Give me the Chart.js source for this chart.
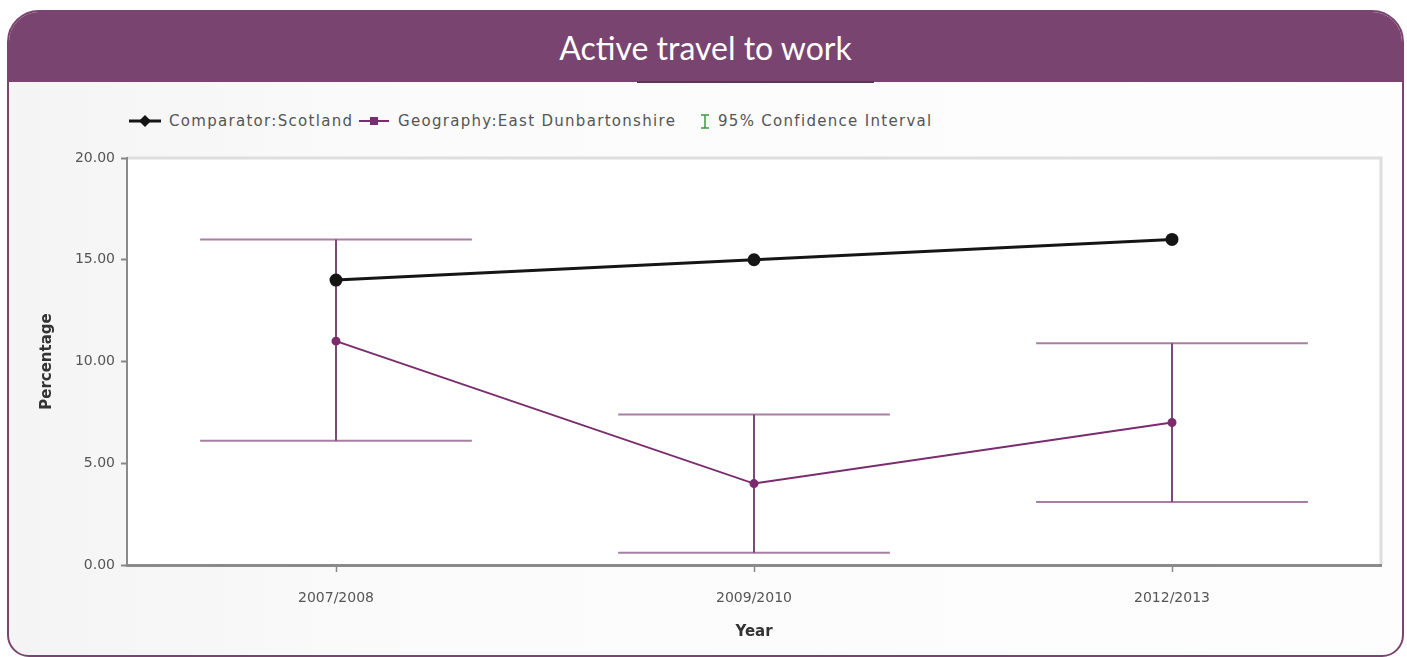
<!DOCTYPE html>
<html>
<head>
<meta charset="utf-8">
<script src="https://cdn.jsdelivr.net/npm/chart.js@4/dist/chart.umd.min.js"></script>
<style>
  html, body { margin: 0; padding: 0; background: #fff; width: 1407px; height: 657px; overflow: hidden; }
  #panel {
    position: absolute; left: 7px; top: 10px; width: 1393px; height: 643px;
    border: 2px solid #7a4470; border-radius: 32px 32px 22px 22px;
    background: linear-gradient(to right, #f4f4f4 0%, #fbfbfb 30%, #fdfdfd 100%);
    overflow: hidden;
  }
  #header {
    position: absolute; left: 0; top: 0; width: 100%; height: 70px;
    background: #7a4470; color: #fff; text-align: center;
    font-family: Lato, "Open Sans", sans-serif; font-size: 32px; line-height: 72px;
  }
  #accent { position: absolute; left: 628px; top: 69px; width: 237px; height: 2px; background: #5e3556; }
  #legend {
    position: absolute; left: 0; top: 98px; height: 22px; width: 1000px;
    font-family: "DejaVu Sans", sans-serif; font-size: 15px; color: #555; letter-spacing: 1.3px;
  }
  #legend span.item { position: absolute; top: 0; white-space: nowrap; line-height: 22px; }
  #legend canvas { position: absolute; top: 0; }
  #wrap { position: absolute; left: 1px; top: 70px; width: 1390px; height: 570px; }
</style>
</head>
<body>
<div id="panel">
  <div id="header">Active travel to work</div>
  <div id="accent"></div>
  <div id="legend"></div>
  <div id="wrap"><canvas id="chart"></canvas></div>
</div>
<script>
// data
const years = ['2007/2008', '2009/2010', '2012/2013'];
const scotland = [14.0, 15.0, 16.0];
const eastDunbartonshire = [11.0, 4.0, 7.0];
const ciLower = [6.1, 0.6, 3.1];
const ciUpper = [16.0, 7.4, 10.9];
const yTickValues = [0, 5, 10, 15, 20];

const seriesNames = ['Comparator:Scotland', 'Geography:East Dunbartonshire', '95% Confidence Interval'];

const black = '#151515';
const purple = '#7a2c6e';
const capColor = '#a97ea3';
const stemColor = '#7c4a76';

// html legend, icons drawn on little canvases
let $legend = document.getElementById('legend');
let legendIcon = (x, w, draw) => {
    let c = document.createElement('canvas');
    c.width = w; c.height = 22;
    c.style.left = x + 'px';
    draw(c.getContext('2d'));
    $legend.appendChild(c);
}
let legendText = (x, text) => {
    let s = document.createElement('span');
    s.className = 'item';
    s.style.left = x + 'px';
    s.textContent = text;
    $legend.appendChild(s);
}
legendIcon(118, 36, (ctx) => {
    ctx.strokeStyle = black; ctx.lineWidth = 3;
    ctx.beginPath(); ctx.moveTo(2, 11); ctx.lineTo(34, 11); ctx.stroke();
    ctx.fillStyle = black;
    ctx.beginPath(); ctx.moveTo(18, 5); ctx.lineTo(24, 11); ctx.lineTo(18, 17); ctx.lineTo(12, 11); ctx.closePath(); ctx.fill();
});
legendText(160, seriesNames[0]);
legendIcon(348, 34, (ctx) => {
    ctx.strokeStyle = purple; ctx.lineWidth = 2;
    ctx.beginPath(); ctx.moveTo(2, 11); ctx.lineTo(32, 11); ctx.stroke();
    ctx.fillStyle = purple;
    ctx.fillRect(13, 7, 8, 8);
});
legendText(389, seriesNames[1]);
legendIcon(688, 16, (ctx) => {
    ctx.strokeStyle = '#3c9a3c'; ctx.lineWidth = 1.5;
    ctx.beginPath();
    ctx.moveTo(4, 5); ctx.lineTo(12, 5);
    ctx.moveTo(8, 5); ctx.lineTo(8, 18);
    ctx.moveTo(4, 18); ctx.lineTo(12, 18);
    ctx.stroke();
});
legendText(709, seriesNames[2]);

// white plot area + light frame on top / right
const plotBackground = {
    id: 'plotBackground',
    beforeDraw(chart) {
        const {ctx, chartArea: a} = chart;
        ctx.save();
        ctx.fillStyle = '#ffffff';
        ctx.fillRect(a.left, a.top, a.right - a.left, a.bottom - a.top);
        ctx.strokeStyle = '#dedede';
        ctx.lineWidth = 3;
        ctx.beginPath();
        ctx.moveTo(a.left, a.top);
        ctx.lineTo(a.right, a.top);
        ctx.lineTo(a.right, a.bottom);
        ctx.stroke();
        ctx.restore();
    }
}

// confidence interval bars for the geography series
const errorBars = {
    id: 'errorBars',
    beforeDatasetsDraw(chart) {
        const {ctx, scales: {x, y}} = chart;
        let step = x.getPixelForValue(1) - x.getPixelForValue(0);
        let half = step * 0.325;
        ctx.save();
        ciLower.forEach((lo, i) => {
            let px = x.getPixelForValue(i);
            let pLo = y.getPixelForValue(lo);
            let pHi = y.getPixelForValue(ciUpper[i]);
            ctx.strokeStyle = capColor;
            ctx.lineWidth = 2;
            ctx.beginPath();
            ctx.moveTo(px - half, pHi); ctx.lineTo(px + half, pHi);
            ctx.moveTo(px - half, pLo); ctx.lineTo(px + half, pLo);
            ctx.stroke();
            ctx.strokeStyle = stemColor;
            ctx.lineWidth = 2;
            ctx.beginPath();
            ctx.moveTo(px, pHi); ctx.lineTo(px, pLo);
            ctx.stroke();
        });
        ctx.restore();
    }
}

const data = {
    labels: years,
    datasets: [{
        label: seriesNames[0],
        data: scotland,
        borderColor: black,
        backgroundColor: black,
        borderWidth: 3,
        pointRadius: 5,
        pointStyle: 'circle',
        tension: 0,
    }, {
        label: seriesNames[1],
        data: eastDunbartonshire,
        borderColor: purple,
        backgroundColor: purple,
        borderWidth: 2,
        pointRadius: 3.5,
        pointStyle: 'circle',
        tension: 0,
    }],
}

const config = {
    type: 'line',
    data,
    options: {
        responsive: true,
        maintainAspectRatio: false,
        animation: false,
        layout: {
            padding: {top: 76, right: 19, left: 0, bottom: 0}
        },
        plugins: {
            legend: {display: false},
            tooltip: {enabled: false},
        },
        scales: {
            x: {
                type: 'category',
                offset: true,
                afterFit: (scale) => { scale.height = 87; },
                grid: {
                    offset: false,
                    drawOnChartArea: false,
                    drawTicks: true,
                    tickLength: 7,
                    tickColor: '#888',
                    tickWidth: 1.5,
                },
                border: {color: '#8a8a8a', width: 3},
                ticks: {
                    color: '#555',
                    font: {family: 'DejaVu Sans', size: 14},
                    padding: 18,
                    maxRotation: 0,
                },
                title: {
                    display: true,
                    text: 'Year',
                    color: '#333',
                    font: {family: 'DejaVu Sans', size: 15, weight: 'bold'},
                    padding: {top: 0, bottom: 11},
                },
            },
            y: {
                min: 0,
                max: 20,
                afterFit: (scale) => { scale.width = 117; },
                afterBuildTicks: (scale) => {
                    scale.ticks = yTickValues.map(v => ({value: v}));
                },
                grid: {
                    drawOnChartArea: false,
                    drawTicks: true,
                    tickLength: 6,
                    tickColor: '#888',
                    tickWidth: 2,
                },
                border: {color: '#8a8a8a', width: 2},
                ticks: {
                    color: '#555',
                    font: {family: 'DejaVu Sans', size: 14},
                    padding: 6,
                    callback: (v) => Number(v).toFixed(2),
                },
                title: {
                    display: true,
                    text: 'Percentage',
                    color: '#333',
                    font: {family: 'DejaVu Sans', size: 15, weight: 'bold'},
                    padding: {top: 28, bottom: 0},
                },
            }
        },
    },
    plugins: [plotBackground, errorBars],
}

const chart = new Chart(document.getElementById('chart'), config);
</script>
</body>
</html>
